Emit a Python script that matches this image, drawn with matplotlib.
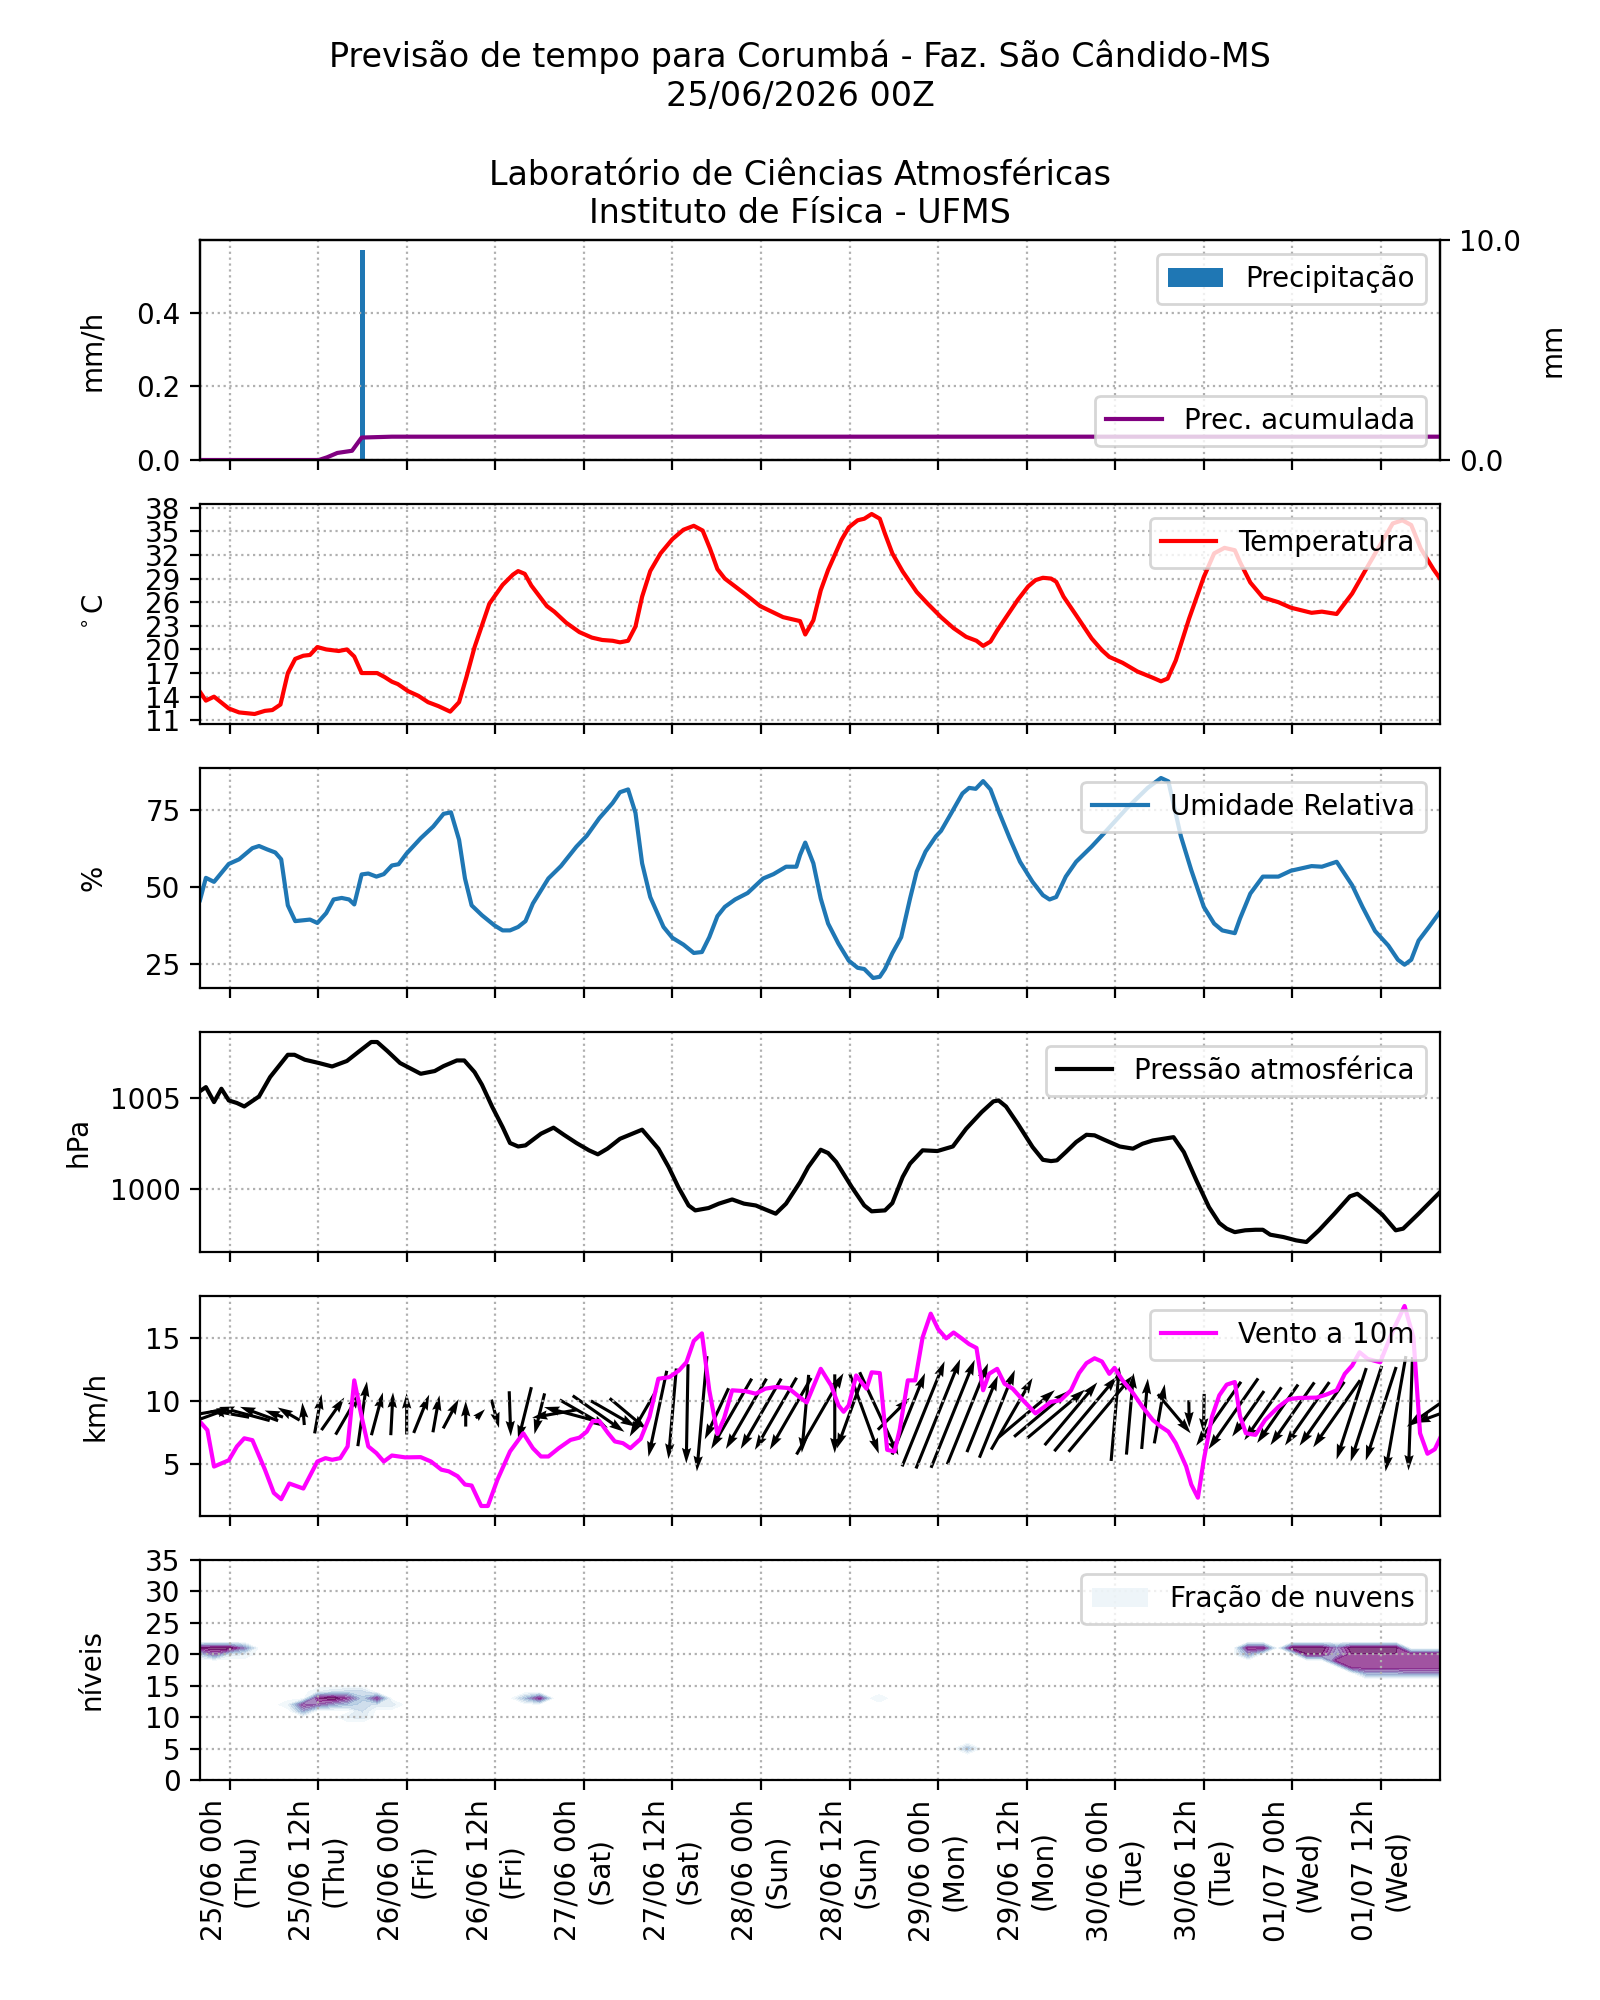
import numpy as np
import matplotlib
matplotlib.use("Agg")
import matplotlib.pyplot as plt
from matplotlib.patches import Patch

# tempo em horas locais a partir de 25/06 00h
tick_horas = np.arange(0, 157, 12)
tick_labels = ["25/06 00h\n(Thu)", "25/06 12h\n(Thu)", "26/06 00h\n(Fri)", "26/06 12h\n(Fri)",
               "27/06 00h\n(Sat)", "27/06 12h\n(Sat)", "28/06 00h\n(Sun)", "28/06 12h\n(Sun)",
               "29/06 00h\n(Mon)", "29/06 12h\n(Mon)", "30/06 00h\n(Tue)", "30/06 12h\n(Tue)",
               "01/07 00h\n(Wed)", "01/07 12h\n(Wed)"]

# precipitacao (mm/h) e acumulada (mm)
prec_t = [18]
prec = [0.57]
acum_t = [-4, 12.1, 13.2, 14.6, 16.6, 17.9, 22, 164]
acum = [0.0, 0.0, 0.12, 0.32, 0.42, 1.02, 1.06, 1.06]

temp_t = [-4.0, -3.2, -2.1, -0.1, 1.3, 3.4, 4.8, 5.8, 6.9, 7.9, 8.9, 10.0, 10.9, 11.9, 13.1, 14.8,
          15.9, 16.9, 17.9, 20.0, 21.0, 22.0, 22.8, 24.2, 25.6, 26.9, 28.3, 29.9, 31.1, 32.1, 33.2,
          35.2, 37.0, 38.4, 39.1, 40.0, 40.9, 43.0, 44.0, 45.6, 47.4, 49.1, 50.5, 51.9, 52.9, 54.0,
          55.0, 55.9, 57.0, 58.4, 60.0, 61.5, 62.9, 64.1, 65.1, 66.1, 67.1, 68.5, 69.9, 71.9, 75.0,
          77.3, 78.0, 79.1, 80.1, 81.1, 82.9, 83.9, 85.1, 86.0, 87.0, 88.1, 88.8, 89.8, 91.2, 93.1,
          94.6, 96.4, 98.1, 99.8, 101.2, 102.1, 103.1, 104.0, 105.4, 106.8, 108.2, 109.2, 110.2,
          111.3, 112.0, 113.0, 114.7, 116.8, 118.2, 119.2, 121.0, 123.0, 125.1, 126.2, 127.1, 128.2,
          130.0, 132.0, 133.4, 134.8, 136.2, 136.9, 138.3, 140.0, 142.1, 143.8, 146.6, 148.0, 150.0,
          152.1, 153.8, 155.6, 157.6, 158.9, 160.1, 161.4, 163.1, 164.0]
temp = [14.6, 13.5, 14.0, 12.5, 12.0, 11.8, 12.2, 12.3, 13.0, 17.0, 18.8, 19.2, 19.3, 20.3, 20.0, 19.8,
        20.0, 19.1, 17.0, 17.0, 16.5, 15.9, 15.6, 14.7, 14.1, 13.3, 12.8, 12.1, 13.3, 16.5, 20.3,
        25.8, 28.2, 29.5, 29.95, 29.6, 28.1, 25.5, 24.8, 23.4, 22.2, 21.5, 21.2, 21.1, 20.9, 21.1,
        22.9, 26.7, 29.95, 32.2, 34.0, 35.2, 35.7, 35.1, 32.8, 30.2, 29.0, 28.0, 27.0, 25.5, 24.1,
        23.6, 21.9, 23.7, 27.5, 30.1, 33.9, 35.5, 36.4, 36.6, 37.2, 36.6, 34.7, 32.2, 29.9, 27.3,
        25.8, 24.1, 22.7, 21.6, 21.1, 20.45, 21.0, 22.4, 24.35, 26.3, 28.0, 28.8, 29.1,
        29.0, 28.6, 26.7, 24.35, 21.4, 19.9, 19.05, 18.3, 17.2, 16.4, 15.95, 16.3, 18.6,
        23.9, 29.2, 32.2, 32.9, 32.6, 31.1, 28.5, 26.6, 26.0, 25.3, 24.65, 24.8, 24.5,
        27.1, 29.9, 32.8, 36.0, 36.4, 35.8, 32.8, 30.2, 29.0]

umid_t = [-4.0, -3.2, -2.1, -0.1, 1.3, 3.1, 4.0, 5.1, 6.2, 7.0, 7.9, 8.9, 10.9, 11.9, 13.1, 14.1,
          15.2, 16.2, 16.9, 17.9, 18.8, 19.9, 20.9, 22.0, 22.9, 24.0, 25.9, 27.6, 29.0, 30.0, 31.1,
          31.9, 32.8, 34.2, 35.9, 37.0, 38.0, 39.1, 40.1, 41.1, 43.2, 44.9, 47.0, 48.4, 50.1, 51.9,
          52.9, 54.0, 55.0, 55.9, 57.0, 58.8, 60.0, 61.5, 62.9, 64.0, 65.0, 66.1, 67.1, 68.5, 70.2,
          72.3, 73.7, 75.4, 76.8, 77.3, 78.0, 79.1, 80.1, 81.1, 82.5, 83.9, 85.1, 86.0, 87.2, 88.1,
          88.8, 89.8, 91.0, 92.2, 93.1, 94.3, 95.7, 96.4, 97.8, 99.3, 100.2, 101.1, 102.1, 103.1,
          104.3, 105.7, 107.1, 108.8, 110.2, 111.1, 112.0, 113.3, 114.7, 116.8, 118.9, 121.6,
          124.4, 126.2, 127.2, 128.9, 130.3, 132.0, 133.4, 134.5, 136.2, 136.9, 138.3, 140.0,
          142.1, 143.8, 146.6, 148.0, 150.0, 152.1, 153.5, 155.2, 157.0, 158.3, 159.2, 160.1,
          161.1, 162.5, 164.0]
umid = [45.7, 52.9, 51.6, 57.4, 58.9, 62.5, 63.2, 62.1, 61.1, 58.9, 44.0, 38.9, 39.4, 38.3, 41.5, 45.9,
        46.4, 45.9, 44.3, 54.0, 54.3, 53.3, 54.1, 56.9, 57.3, 60.8, 65.7, 69.5, 73.6, 74.1, 65.2,
        52.7, 44.0, 40.8, 37.5, 35.9, 35.9, 37.0, 38.9, 44.6, 52.7, 56.7, 63.0, 66.5, 72.2, 77.1,
        80.6, 81.5, 73.9, 57.6, 46.7, 37.0, 33.5, 31.3, 28.6, 28.9, 33.7, 40.5, 43.5, 45.9, 48.0,
        52.7, 54.1, 56.5, 56.5, 60.3, 64.3, 57.6, 46.2, 38.1, 31.6, 26.1, 23.8, 23.4, 20.5, 20.9,
        23.4, 28.5, 33.7, 46.2, 54.9, 61.4, 66.3, 68.1, 73.9, 80.2, 82.0, 81.7, 84.2, 81.5,
        73.9, 65.7, 58.1, 51.6, 47.3, 45.9, 46.7, 53.3, 58.1, 63.0, 68.4, 75.5,
        82.0, 85.2, 84.1, 66.3, 55.4, 43.5, 38.1, 35.9, 35.0, 39.7, 47.8, 53.3,
        53.3, 55.2, 56.7, 56.5, 58.1, 50.5, 43.5, 35.7, 31.0, 26.4, 24.8, 26.4,
        32.6, 37.0, 41.9]

pres_t = [-4.0, -3.2, -2.1, -1.1, -0.1, 1.0, 2.0, 4.0, 5.5, 7.9, 8.8, 10.2, 12.1, 13.9, 15.9, 17.6,
          19.2, 20.0, 21.4, 23.1, 25.9, 27.8, 29.0, 30.8, 31.8, 33.2, 34.2, 35.6, 37.0, 38.0, 39.1,
          40.1, 42.2, 43.9, 45.3, 47.0, 48.7, 49.9, 51.2, 52.9, 55.9, 58.1, 59.5, 60.8, 62.2, 63.1,
          64.9, 66.3, 68.1, 69.7, 71.3, 72.6, 74.0, 75.4, 77.3, 78.4, 80.1, 81.1, 82.2, 84.3, 86.0,
          87.0, 88.8, 89.8, 91.2, 92.2, 93.9, 95.9, 98.0, 99.8, 101.9, 103.5, 104.2, 105.2, 106.8,
          108.8, 110.2, 111.3, 112.1, 113.3, 114.7, 116.1, 117.2, 118.5, 120.6, 122.4, 123.7,
          125.1, 126.5, 127.9, 129.3, 131.0, 132.7, 134.1, 135.1, 136.2, 137.6, 139.0, 140.0,
          141.0, 142.8, 144.5, 145.9, 147.6, 149.7, 151.8, 152.8, 154.2, 156.2, 158.0, 159.0,
          161.1, 164.0]
pres = [1005.38, 1005.6, 1004.78, 1005.51, 1004.87, 1004.73, 1004.54, 1005.09, 1006.15, 1007.37,
        1007.37, 1007.10, 1006.92, 1006.73, 1007.03, 1007.57, 1008.07, 1008.07, 1007.57, 1006.92,
        1006.33, 1006.48, 1006.75, 1007.06, 1007.06, 1006.42, 1005.73, 1004.51, 1003.41, 1002.54,
        1002.35, 1002.41, 1003.05, 1003.38, 1002.99, 1002.54, 1002.14, 1001.92, 1002.23, 1002.77,
        1003.27, 1002.23, 1001.22, 1000.13, 999.12, 998.85, 998.98, 999.22, 999.45, 999.22,
        999.12, 998.90, 998.67, 999.22, 1000.4, 1001.22, 1002.17, 1001.99, 1001.50, 1000.13,
        999.12, 998.80, 998.85, 999.25, 1000.68, 1001.41, 1002.14, 1002.10, 1002.35, 1003.32,
        1004.23, 1004.82, 1004.87, 1004.54, 1003.59, 1002.32, 1001.62, 1001.55, 1001.59, 1002.04,
        1002.59, 1002.99, 1002.96, 1002.72, 1002.35, 1002.23, 1002.50, 1002.68, 1002.77, 1002.86,
        1002.04, 1000.49, 999.03, 998.16, 997.85, 997.66, 997.76, 997.79, 997.79, 997.52,
        997.39, 997.21, 997.12, 997.76, 998.67, 999.62, 999.76, 999.31, 998.61, 997.76,
        997.85, 998.67, 999.85]

vento_t = [-4.0, -3.0, -2.1, -0.1, 1.0, 2.0, 3.1, 4.8, 6.0, 7.0, 8.1, 10.0, 11.9, 13.0, 13.9, 15.0,
           16.0, 16.9, 17.9, 18.8, 19.9, 20.9, 22.0, 23.8, 25.9, 27.3, 28.7, 29.7, 30.9, 31.9, 32.8,
           34.1, 35.0, 36.3, 38.0, 39.8, 41.1, 42.2, 43.2, 44.6, 46.2, 47.4, 48.4, 49.2, 50.1, 51.3,
           52.2, 53.3, 54.3, 55.7, 56.9, 58.1, 59.6, 60.9, 61.9, 62.9, 64.0, 65.0, 66.1, 67.0, 68.1,
           69.9, 71.3, 72.6, 74.0, 75.7, 77.3, 78.2, 80.1, 81.5, 82.5, 83.2, 83.9, 84.9, 86.3, 87.0,
           88.1, 89.1, 90.1, 90.8, 91.9, 92.9, 93.9, 95.0, 96.0, 97.1, 98.1, 99.2, 100.2, 101.2,
           102.1, 102.9, 104.0, 105.0, 106.1, 107.5, 109.2, 111.3, 112.6, 114.0, 115.1, 116.1,
           117.2, 118.2, 119.2, 119.9, 121.0, 122.3, 123.7, 125.1, 126.2, 127.2, 128.2, 129.6,
           130.3, 131.2, 132.0, 133.1, 134.1, 135.1, 136.2, 136.9, 137.7, 139.0, 140.3, 142.1,
           143.5, 144.8, 147.3, 148.6, 150.0, 151.1, 152.1, 153.1, 154.2, 155.9, 157.6, 159.2,
           160.4, 161.3, 162.3, 163.3, 164.0]
vento = [8.37, 7.7, 4.8, 5.3, 6.4, 7.05, 6.9, 4.55, 2.7, 2.2, 3.45, 3.05, 5.2, 5.47, 5.34, 5.47,
         6.4, 11.66, 8.76, 6.4, 5.87, 5.2, 5.68, 5.53, 5.55, 5.2, 4.55, 4.42, 4.03, 3.37, 3.29,
         1.66, 1.66, 3.76, 6.0, 7.45, 6.26, 5.6, 5.6, 6.26, 6.92, 7.1, 7.58, 8.42, 8.42, 7.45,
         6.8, 6.66, 6.26, 7.0, 8.76, 11.79, 11.92, 12.45, 13.1, 14.8, 15.4, 10.87, 7.4, 8.63, 10.87,
         10.8, 10.6, 11.0, 11.13, 11.05, 10.3, 9.9, 12.58, 11.26, 9.68, 9.16, 9.68, 12.05, 11.0, 12.3,
         12.24, 6.13, 6.0, 7.76, 11.66, 11.66, 15.08, 16.97, 15.74, 15.0, 15.47, 15.0, 14.55, 14.24,
         10.87, 12.18, 12.58, 11.39, 11.0, 10.08, 9.03, 9.95, 10.08, 10.87, 12.24, 13.03,
         13.42, 13.16, 12.18, 12.66, 11.66, 10.74, 9.55, 8.5, 7.97, 7.58, 6.66, 4.82,
         3.37, 2.32, 5.34, 8.76, 10.47, 11.32, 11.53, 8.82, 7.45, 7.32, 8.5, 9.55,
         10.16, 10.26, 10.29, 10.53, 10.87, 12.18, 12.84, 13.9, 13.37, 13.1, 15.6, 17.58,
         15.08, 7.45, 5.82, 6.18, 7.05]

# setas de vento a cada 2 h: velocidade (km/h) e direcao para onde apontam
# (graus, anti-horario a partir do leste)
seta_t = np.arange(-4, 165, 2)
seta_vel = [8.4, 4.9,
            5.3, 7.0, 5.4, 2.6, 3.4, 3.0, 5.3, 5.3, 6.4, 8.7, 5.9, 5.7,
            5.5, 5.5, 5.0, 4.4, 3.4, 1.7, 3.9, 6.0, 7.3, 5.6, 6.0, 6.9,
            7.4, 8.4, 6.9, 6.4, 7.0, 11.7, 12.1, 13.2, 15.4, 7.5, 10.8, 10.8,
            10.8, 11.1, 11.0, 10.4, 12.5, 10.5, 9.8, 11.3, 12.2, 6.0, 11.7, 15.1,
            15.7, 15.5, 14.5, 11.0, 12.6, 11.0, 9.8, 9.5, 10.0, 10.9, 13.0, 13.2,
            12.6, 10.9, 9.4, 8.0, 6.8, 3.6, 5.3, 10.4, 11.5, 7.4, 8.6, 9.5,
            10.2, 10.3, 10.4, 10.9, 12.8, 13.4, 13.1, 15.6, 15.1, 6.0, 7.05]
seta_dir = [190, 20,
            170, 165, 160, 160, 150, 95, 80, 55, 60, 82, 75, 87,
            90, 68, 80, 62, 90, 45, -75, -88, -104, -104, 190, 165,
            -30, -35, -30, -40, 240, 258, 265, 269, 265, 245, 240, 240,
            240, 240, 240, 265, 60, -90, 250, -70, -65, 45, 68, 68,
            68, 68, 68, 68, 68, 60, 40, 40, 40, 50, 50, 50,
            85, 85, 85, 80, -50, -89, -91, 235, 235, 235, 235, 235,
            235, 235, 235, 235, 252, 252, 252, 260, 268, 215, 200]

# fracao de nuvens: (hora, nivel, fracao), o resto e zero
nuvens_t = np.arange(-4, 165, 2)
niveis = np.arange(0, 36)
nuvens = [(-4, 21, 0.9), (-2, 21, 1.0), (0, 21, 1.0), (2, 21, 0.6), (-2, 20, 0.7), (-4, 20, 0.3),
          (2, 20, 0.15), (0, 20, 0.2),
          (8, 12, 0.15), (10, 12, 0.8), (10, 11, 0.5), (12, 12, 0.7), (12, 13, 0.9), (14, 13, 1.0),
          (14, 12, 0.5), (16, 13, 0.8), (16, 12, 0.4), (16, 14, 0.3), (18, 13, 0.35),
          (18, 14, 0.3), (18, 11, 0.25), (18, 12, 0.3), (16, 10, 0.15), (18, 10, 0.2),
          (20, 13, 0.8), (20, 12, 0.2), (22, 12, 0.2), (12, 14, 0.15), (14, 14, 0.25),
          (40, 13, 0.4), (42, 13, 0.85), (88, 13, 0.12), (100, 5, 0.4),
          (138, 21, 0.9), (140, 21, 0.9), (138, 20, 0.5),
          (144, 21, 1.0), (146, 21, 1.0), (148, 21, 1.0), (150, 21, 0.6), (152, 21, 1.0),
          (154, 21, 1.0), (156, 21, 1.0), (158, 21, 1.0), (160, 20, 0.9), (162, 20, 0.9),
          (164, 20, 0.9), (146, 20, 0.9), (148, 20, 0.9), (150, 20, 0.5), (152, 20, 0.9),
          (154, 20, 0.9), (156, 20, 0.9), (158, 20, 0.9), (150, 19, 0.9), (152, 19, 0.9),
          (154, 19, 0.9), (156, 19, 0.9), (158, 19, 0.9), (160, 19, 0.9), (162, 19, 0.9),
          (164, 19, 0.9), (152, 18, 0.9), (154, 18, 0.9), (156, 18, 0.9), (158, 18, 0.9),
          (160, 18, 0.9), (162, 18, 0.9), (164, 18, 0.9), (154, 17, 0.5), (156, 17, 0.5),
          (158, 17, 0.5), (160, 17, 0.6), (162, 17, 0.6), (164, 17, 0.6)]

fig, axs = plt.subplots(6, 1, figsize=(8, 10), dpi=200, sharex=True)
fig.suptitle("Previsão de tempo para Corumbá - Faz. São Cândido-MS\n25/06/2026 00Z")

# precipitacao
ax = axs[0]
# titulo centrado na figura, nao no eixo
ax.set_title("Laboratório de Ciências Atmosféricas\nInstituto de Física - UFMS", x=600 / 1240)
ax.bar(prec_t, prec, width=0.7, color="C0", label="Precipitação")
ax.set_yticks([0.0, 0.2, 0.4])
ax.set_ylabel("mm/h", labelpad=10.9)
ax.grid(True, linestyle=":")
ax.legend(loc="upper right")
ax2 = ax.twinx()
ax2.plot(acum_t, acum, color="purple", label="Prec. acumulada")
ax2.set_ylim(0, 10)
ax2.set_yticks([0, 10])
ax2.set_yticklabels(["0.0", "10.0"])
ax2.set_ylabel("mm", labelpad=6.3)
ax2.legend(loc="lower right")

# temperatura
ax = axs[1]
ax.plot(temp_t, temp, color="r", label="Temperatura")
ax.set_yticks(np.arange(11, 39, 3))
ax.set_ylabel(r"$^\circ$C", labelpad=13.2)
ax.grid(True, linestyle=":")
ax.legend(loc="upper right")

# umidade
ax = axs[2]
ax.plot(umid_t, umid, color="C0", label="Umidade Relativa")
ax.set_yticks([25, 50, 75])
ax.set_ylabel("%", labelpad=13.6)
ax.grid(True, linestyle=":")
ax.legend(loc="upper right")

# pressao
ax = axs[3]
ax.plot(pres_t, pres, color="k", label="Pressão atmosférica")
ax.set_yticks([1000, 1005])
ax.set_ylabel("hPa", labelpad=6.3)
ax.grid(True, linestyle=":")
ax.legend(loc="upper right")

# vento
ax = axs[4]
vel = np.array(seta_vel)
ang = np.deg2rad(seta_dir)
ax.plot(vento_t, vento, color="magenta", label="Vento a 10m")
ax.quiver(seta_t, np.full(len(seta_t), 9.0), vel * np.cos(ang), vel * np.sin(ang),
          pivot="middle", scale=165, scale_units="width", width=0.0025)
ax.set_yticks([5, 10, 15])
ax.set_ylabel("km/h", labelpad=13.2)
ax.grid(True, linestyle=":")
ax.legend(loc="upper right")

# nuvens
ax = axs[5]
Z = np.zeros((len(niveis), len(nuvens_t)))
for h, n, f in nuvens:
    Z[n, list(nuvens_t).index(h)] = f
lev = np.linspace(0.05, 1.0, 11)
cs = ax.contourf(nuvens_t, niveis, Z, levels=lev, cmap="BuPu", alpha=0.75)
cor = plt.get_cmap("BuPu")(0.08)
ax.legend([Patch(facecolor=cor, alpha=0.75)], ["Fração de nuvens"], loc="upper right")
ax.set_ylim(0, 35)
ax.set_yticks(np.arange(0, 36, 5))
ax.set_ylabel("níveis", labelpad=14.1)
ax.grid(True, linestyle=":")

ax.set_xlim(-4, 164)
ax.set_xticks(tick_horas)
ax.set_xticklabels(tick_labels, rotation=90)

fig.savefig("out.png", dpi=200)
